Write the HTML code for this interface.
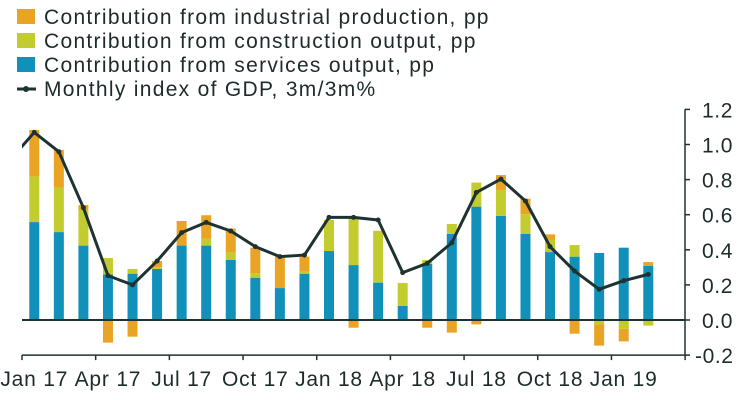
<!DOCTYPE html>
<html><head><meta charset="utf-8"><style>
body{margin:0;background:#fff;}
svg{display:block;font-family:"Liberation Sans",sans-serif;}
</style></head><body>
<svg id="c" width="747" height="400" viewBox="0 0 747 400">
<g id="legend" font-size="21" letter-spacing="1.3" fill="#1e2b2b">
 <g><rect x="17" y="9" width="18" height="15" fill="#e9a425"/><text x="44" y="24">Contribution from industrial production, pp</text></g>
 <g><rect x="17" y="33" width="18" height="15" fill="#c3cc2e"/><text x="44" y="48">Contribution from construction output, pp</text></g>
 <g><rect x="17" y="57" width="18" height="15" fill="#1191b9"/><text x="44" y="72">Contribution from services output, pp</text></g>
 <g><line x1="17" y1="89" x2="36" y2="89" stroke="#1f3232" stroke-width="3"/><circle cx="26" cy="89" r="3" fill="#1f3232"/><text x="44" y="96">Monthly index of GDP, 3m/3m%</text></g>
</g>
<defs><clipPath id="pc"><rect x="22" y="0" width="663" height="400"/></clipPath></defs>
<g id="bars"></g>
<g id="axes"></g>
<g id="line" clip-path="url(#pc)"></g>
</svg>
<script>
const categories=["Jan 17","Feb 17","Mar 17","Apr 17","May 17","Jun 17","Jul 17","Aug 17","Sep 17","Oct 17","Nov 17","Dec 17","Jan 18","Feb 18","Mar 18","Apr 18","May 18","Jun 18","Jul 18","Aug 18","Sep 18","Oct 18","Nov 18","Dec 18","Jan 19","Feb 19"];
const services=[0.558,0.501,0.424,0.26,0.264,0.291,0.424,0.424,0.342,0.241,0.182,0.264,0.393,0.313,0.213,0.08,0.319,0.49,0.646,0.593,0.49,0.387,0.361,0.382,0.412,0.308];
const construction=[0.259,0.253,0.203,0.093,0.027,0.01,0,0.04,0.042,0.025,-0.005,0.011,0.177,0.266,0.29,0.131,0.023,0.057,0.137,0.148,0.112,0.069,0.066,-0.025,-0.05,-0.032];
const industrial=[0.266,0.215,0.028,-0.129,-0.095,0.035,0.14,0.133,0.137,0.146,0.179,0.086,0,-0.044,0.005,0,-0.044,-0.072,-0.025,0.085,0.089,0.032,-0.078,-0.121,-0.072,0.022];
const gdpPrev=0.91;
const gdp=[1.069,0.959,0.64,0.253,0.2,0.336,0.498,0.556,0.507,0.418,0.361,0.37,0.585,0.585,0.57,0.27,0.323,0.44,0.727,0.803,0.678,0.418,0.279,0.175,0.224,0.26];
const yTicks=[1.2,1.0,0.8,0.6,0.4,0.2,0.0,-0.2];
const xLabelIdx=[0,3,6,9,12,15,18,21,24];
const xLabels=["Jan 17","Apr 17","Jul 17","Oct 17","Jan 18","Apr 18","Jul 18","Oct 18","Jan 19"];

const NS="http://www.w3.org/2000/svg";
const X0=22,STEP=24.56,Y0=320,K=175.5;
const x=i=>X0+STEP*(i+0.5);
const y=v=>Y0-v*K;
function mk(tag,attrs,parent){const e=document.createElementNS(NS,tag);for(const k in attrs)e.setAttribute(k,attrs[k]);parent.appendChild(e);return e;}
const gb=document.getElementById('bars'),ga=document.getElementById('axes'),gl=document.getElementById('line');
const series=[[services,"#1191b9","services"],[construction,"#c3cc2e","construction"],[industrial,"#e9a425","industrial"]];
categories.forEach((c,i)=>{
 let pos=0,neg=0;
 series.forEach(([arr,col,nm])=>{
  const v=arr[i];if(!v)return;
  let a,b;
  if(v>=0){a=pos;b=pos+v;pos=b;}else{a=neg;b=neg+v;neg=b;}
  const r=mk('rect',{x:x(i)-5,y:Math.min(y(a),y(b)),width:10,height:Math.abs(y(a)-y(b)),fill:col},gb);
  
  
 });
});
let z=mk('line',{x1:X0,y1:y(0),x2:685,y2:y(0),stroke:"#1f3232","stroke-width":2},ga);


let ya=mk('line',{x1:685,y1:y(1.2),x2:685,y2:y(-0.2),stroke:"#1f3232","stroke-width":1.5},ga);


let xa=mk('line',{x1:X0,y1:y(-0.2),x2:685,y2:y(-0.2),stroke:"#1f3232","stroke-width":1.5},ga);


yTicks.forEach(t=>{
 mk('line',{x1:685,y1:y(t),x2:690,y2:y(t),stroke:"#1f3232","stroke-width":1.5},ga);
 const tx=mk('text',{x:t<0?695:702,y:y(t)+8,"font-size":21,"letter-spacing":0.6,fill:"#1e2b2b"},ga);
 tx.textContent=t.toFixed(1);
 
 
});
for(let q=0;q<=9;q++){const xx=X0+q*3*STEP;mk('line',{x1:xx,y1:y(-0.2),x2:xx,y2:y(-0.2)+5,stroke:"#1f3232","stroke-width":1.5},ga);}
xLabelIdx.forEach((ix,j)=>{
 const tx=mk('text',{x:x(ix),y:386,"font-size":21,"letter-spacing":0.8,fill:"#1e2b2b","text-anchor":"middle"},ga);
 tx.textContent=xLabels[j];
 
 
});
let pts=[[x(-1),y(gdpPrev)]].concat(gdp.map((v,i)=>[x(i),y(v)]));
const p=mk('polyline',{points:pts.map(q=>q.join(',')).join(' '),fill:"none",stroke:"#1f3232","stroke-width":3,"stroke-linejoin":"round"},gl);


gdp.forEach((v,i)=>{const c=mk('circle',{cx:x(i),cy:y(v),r:2.5,fill:"#1f3232"},gl);
 
 });
</script>
</body></html>
